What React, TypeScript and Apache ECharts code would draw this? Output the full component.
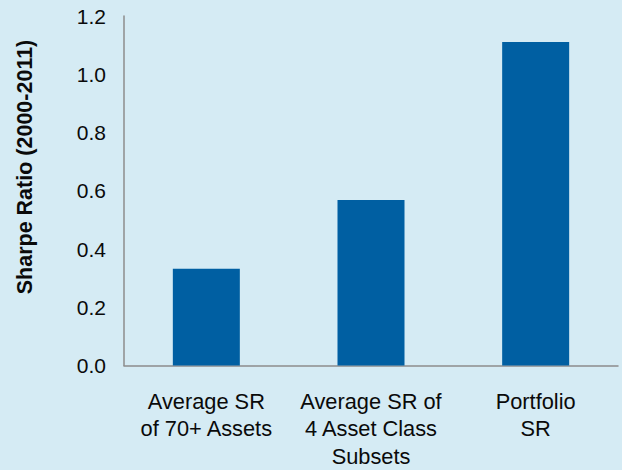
import React, { useEffect, useRef } from "react";
import * as echarts from "echarts";

const categories = ["Average SR\nof 70+ Assets", "Average SR of\n4 Asset Class\nSubsets", "Portfolio\nSR"];
const sharpeValues = [0.332, 0.568, 1.111];
const yTitle = "Sharpe Ratio (2000-2011)";

export default function App() {
  const ref = useRef<HTMLDivElement>(null);
  useEffect(() => {
    document.body.style.margin = "0";
    const chart = echarts.init(ref.current!, null, { renderer: "svg" });
    chart.setOption({
      animation: false,
      backgroundColor: "#D5EBF4",
      textStyle: { fontFamily: "Liberation Sans, Arial, sans-serif" },
      grid: { left: 124, top: 16, right: 4, bottom: 103 },
      xAxis: {
        type: "category",
        data: categories,
        axisLine: { lineStyle: { color: "#8C8C8C", width: 1.5 } },
        axisTick: { show: false },
        axisLabel: {
          color: "#0a0a0a",
          fontSize: 21.8,
          lineHeight: 27.5,
          margin: 22,
          interval: 0,
          fontFamily: "Liberation Sans, Arial, sans-serif",
        },
      },
      yAxis: {
        type: "value",
        min: 0,
        max: 1.2,
        interval: 0.2,
        axisLine: { show: true, lineStyle: { color: "#8C8C8C", width: 1.5 } },
        axisTick: { show: false },
        splitLine: { show: false },
        axisLabel: {
          color: "#0a0a0a",
          fontSize: 21,
          margin: 18,
          formatter: (v: number) => v.toFixed(1),
          fontFamily: "Liberation Sans, Arial, sans-serif",
        },
      },
      graphic: [
        {
          type: "text",
          x: 25,
          y: 167,
          rotation: Math.PI / 2,
          style: {
            text: yTitle,
            fontSize: 21.5,
            fontWeight: "bold",
            fill: "#0a0a0a",
            align: "center",
            verticalAlign: "middle",
            fontFamily: "Liberation Sans, Arial, sans-serif",
          },
        },
      ],
      series: [
        {
          type: "bar",
          data: sharpeValues,
          barWidth: 67,
          itemStyle: { color: "#005FA2" },
        },
      ],
    });
    return () => chart.dispose();
  }, []);
  return <div ref={ref} style={{ width: 622, height: 470 }} />;
}
